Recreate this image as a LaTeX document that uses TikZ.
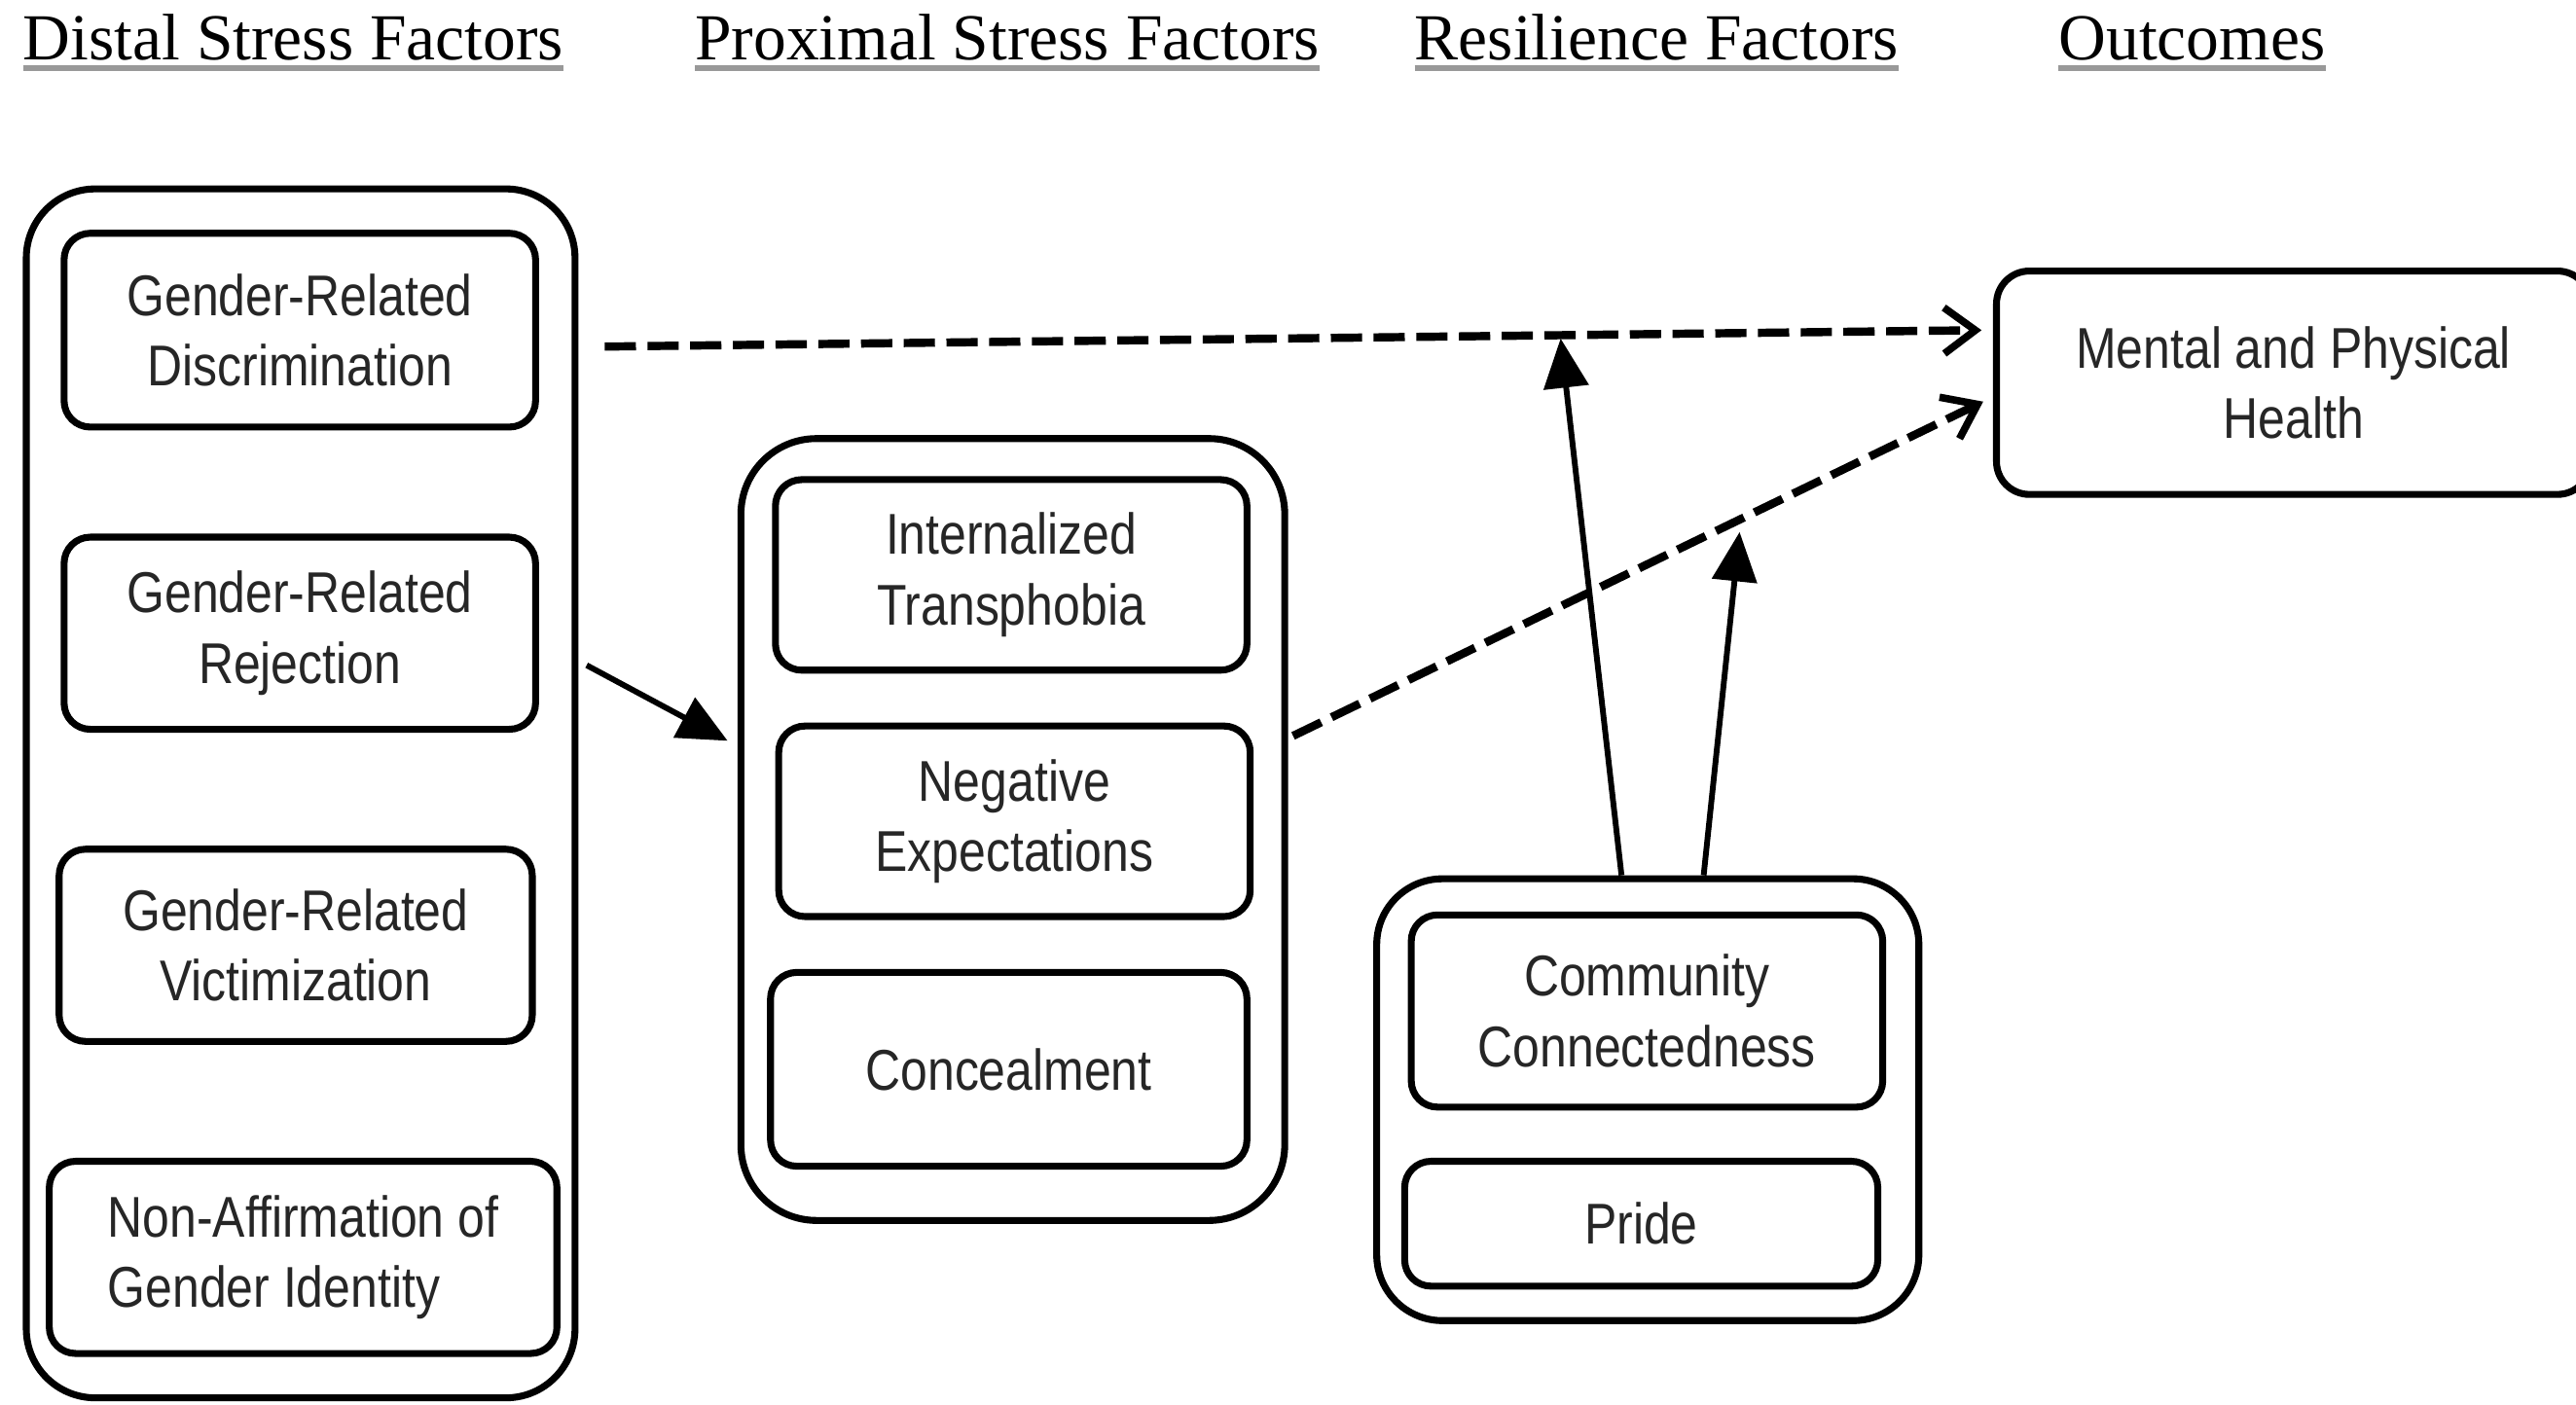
\documentclass[tikz,border=0pt]{standalone}
\usepackage{fontspec}
\setmainfont{Liberation Serif}
\newfontfamily\boxfont[FakeStretch=0.845]{Liberation Sans}
\usetikzlibrary{arrows.meta,calc}
\begin{document}
\begin{tikzpicture}[x=1pt,y=-1pt,
  hdr/.style={font=\fontsize{40}{48}\selectfont, inner sep=0pt, anchor=base west},
  ul/.style={draw=black!40, line width=3.5pt},
  inbox/.style={draw, line width=4.2pt, rounded corners=16pt, align=center, inner sep=0pt,
    text=black!85, font=\boxfont\fontsize{35}{43}\selectfont},
  outbox/.style={draw, line width=4.2pt, rounded corners=42pt, inner sep=0pt},
  solidarr/.style={line width=3.5pt, -{Triangle[length=30pt,width=27pt]}},
  dasharr/.style={line width=5pt, dash pattern=on 19pt off 7pt,
    -{Straight Barb[length=19pt,width=28pt,line width=4.5pt]}}
]
\useasboundingbox[fill=white] (0,0) rectangle (1568,855);

% headers
\node[hdr] (h1) at (14,36.5) {Distal Stress Factors};
\node[hdr] (h2) at (423,36.5) {Proximal Stress Factors};
\node[hdr] (h3) at (861,36.5) {Resilience Factors};
\node[hdr] (h4) at (1253,36.5) {Outcomes};
\foreach \h in {h1,h2,h3,h4}
  \draw[ul] ([yshift=-5pt]\h.base west) -- ([yshift=-5pt]\h.base east);

% distal
\node[outbox, minimum width=334pt, minimum height=736pt] (dist) at (183,483) {};
\node[inbox, minimum width=287pt, minimum height=118pt] (disc) at (182.5,201) {Gender-Related\\Discrimination};
\node[inbox, minimum width=287pt, minimum height=117pt] (rej) at (182.5,385.5) {Gender-Related\\Rejection};
\node[inbox, minimum width=288pt, minimum height=117pt] (vict) at (180,575.5) {Gender-Related\\Victimization};
\node[inbox, minimum width=309pt, minimum height=117pt, align=left] (naff) at (184.5,765.5) {Non-Affirmation of\\Gender Identity};

% proximal
\node[outbox, minimum width=331pt, minimum height=476pt, rounded corners=46pt] (prox) at (616.5,505) {};
\node[inbox, minimum width=287pt, minimum height=116pt] (it) at (615.5,350) {Internalized\\Transphobia};
\node[inbox, minimum width=287pt, minimum height=116pt] (ne) at (617.5,500) {Negative\\Expectations};
\node[inbox, minimum width=290pt, minimum height=118pt] (conc) at (614,651) {Concealment};

% resilience
\node[outbox, minimum width=330pt, minimum height=269pt, rounded corners=40pt] (res) at (1003,669.5) {};
\node[inbox, minimum width=287pt, minimum height=117pt] (cc) at (1002.5,615.5) {Community\\Connectedness};
\node[inbox, minimum width=288pt, minimum height=76pt] (pride) at (999,745) {Pride};

% outcome
\node[inbox, minimum width=361.5pt, minimum height=136pt, rounded corners=20pt] (mph) at (1396,233) {Mental and Physical\\Health};

% connectors
\draw[solidarr] ([xshift=5pt,yshift=78pt]dist.east) -- ([xshift=-6pt,yshift=54pt]prox.west);
\draw[dasharr] ([xshift=40pt,yshift=-10pt]disc.east) -- coordinate[pos=0.694] (j1) ([xshift=-7pt,yshift=32pt]mph.west);
\draw[dasharr] ([xshift=3pt,yshift=57pt]prox.east) -- coordinate[pos=0.649] (j2) ([xshift=-6pt,yshift=-11.5pt]mph.west);
\draw[solidarr, shorten >=2pt] ([xshift=-16pt]res.north) -- (j1);
\draw[solidarr, shorten >=8pt] ([xshift=34pt]res.north) -- (j2);
\end{tikzpicture}
\end{document}
